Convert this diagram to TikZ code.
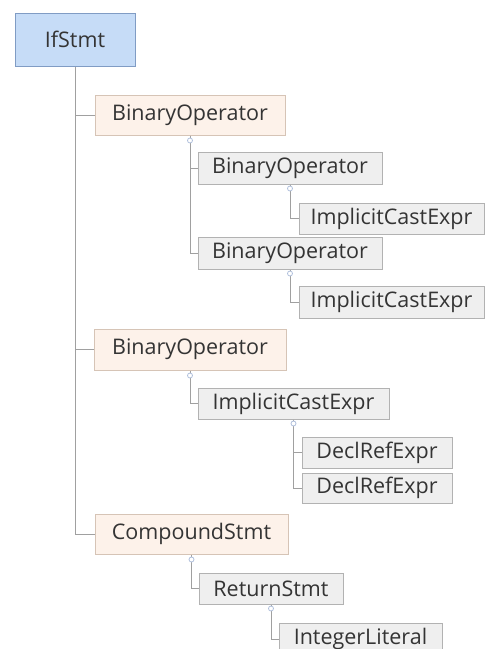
\documentclass[tikz,border=0pt]{standalone}
\usepackage{fontspec}
\setmainfont{Open Sans}
\usepackage{tikz}
\definecolor{rootBlue}{RGB}{198, 220, 247}
\definecolor{rootEdge}{RGB}{128, 156, 196}
\definecolor{opPeach}{RGB}{253, 242, 234}
\definecolor{opEdge}{RGB}{214, 196, 182}
\definecolor{exprGray}{RGB}{239, 239, 239}
\definecolor{exprEdge}{RGB}{178, 178, 178}
\definecolor{textGray}{RGB}{52, 52, 52}
\definecolor{linkGray}{RGB}{160, 160, 160}
\definecolor{toggleBlue}{RGB}{176, 192, 220}

\begin{document}
\begin{tikzpicture}[x=1pt, y=-1pt,
  box/.style={draw, rectangle, inner sep=0pt, line width=1pt, text=textGray,
    font=\fontsize{21.5}{21.5}\selectfont},
  rootbox/.style={box, fill=rootBlue, draw=rootEdge},
  opbox/.style={box, fill=opPeach, draw=opEdge},
  exprbox/.style={box, fill=exprGray, draw=exprEdge},
  link/.style={draw=linkGray, line width=1pt},
  toggle/.style={circle, draw=toggleBlue, fill=white, line width=0.8pt,
    inner sep=0pt, minimum size=5pt}]
  \clip (0,0) rectangle (486,649);
  \fill[white] (0,0) rectangle (486,649);

  % 1. root
  \node[rootbox, minimum width=120, minimum height=53] (ifstmt) at (75,39.5) {IfStmt};

  % 2. condition: first BinaryOperator
  \node[opbox, minimum width=190, minimum height=40] (binop) at (190,115) {BinaryOperator};
  \node[exprbox, minimum width=184, minimum height=32] (binopL) at (290,168) {BinaryOperator};
  \node[exprbox, minimum width=185, minimum height=31] (castL) at (391.5,218.5) {ImplicitCastExpr};
  \node[exprbox, minimum width=184, minimum height=32] (binopR) at (290,253) {BinaryOperator};
  \node[exprbox, minimum width=185, minimum height=32] (castR) at (391.5,302) {ImplicitCastExpr};

  % 3. second BinaryOperator
  \node[opbox, minimum width=192, minimum height=41] (binopB) at (190,349.5) {BinaryOperator};
  \node[exprbox, minimum width=191, minimum height=31] (castB) at (293.5,403.5) {ImplicitCastExpr};
  \node[exprbox, minimum width=150, minimum height=31] (declA) at (377,452.5) {DeclRefExpr};
  \node[exprbox, minimum width=150, minimum height=30] (declB) at (377,488) {DeclRefExpr};

  % 4. body
  \node[opbox, minimum width=193, minimum height=40] (body) at (191.5,534) {CompoundStmt};
  \node[exprbox, minimum width=144, minimum height=31] (ret) at (271,588.5) {ReturnStmt};
  \node[exprbox, minimum width=163, minimum height=32] (lit) at (360.5,639) {IntegerLiteral};

  % tree lines
  \draw[link] (ifstmt.south) |- (binop.west);
  \draw[link] (ifstmt.south) |- (binopB.west);
  \draw[link] (ifstmt.south) |- (body.west);
  \draw[link] (binop.south) |- (binopL.west);
  \draw[link] (binop.south) |- (binopR.west);
  \draw[link] (binopL.south) |- (castL.west);
  \draw[link] (binopR.south) |- (castR.west);
  \draw[link] (binopB.south) |- (castB.west);
  \draw[link] (castB.south) |- (declA.west);
  \draw[link] (castB.south) |- (declB.west);
  \draw[link] (body.south) |- (ret.west);
  \draw[link] (ret.south) |- (lit.west);

  % collapse toggles
  \node[toggle] (tgA) at ([yshift=-5pt]binop.south) {};
  \node[toggle] (tgB) at ([yshift=-4pt]binopL.south) {};
  \node[toggle] (tgC) at ([yshift=-4pt]binopR.south) {};
  \node[toggle] (tgD) at ([yshift=-5pt]binopB.south) {};
  \node[toggle] (tgE) at ([yshift=-4pt]castB.south) {};
  \node[toggle] (tgF) at ([yshift=-5pt]body.south) {};
  \node[toggle] (tgG) at ([yshift=-4pt]ret.south) {};
\end{tikzpicture}
\end{document}
